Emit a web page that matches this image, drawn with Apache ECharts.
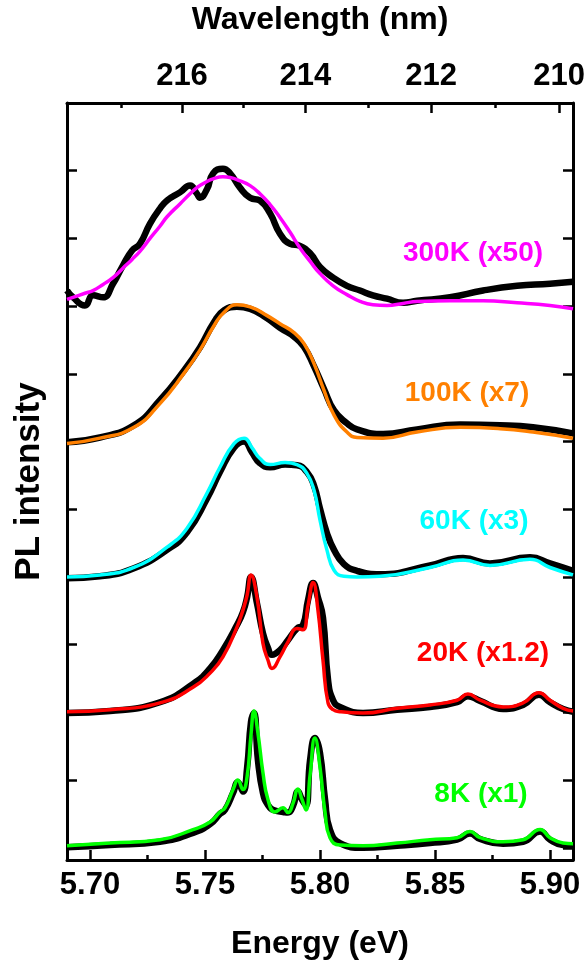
<!DOCTYPE html>
<html>
<head>
<meta charset="utf-8">
<script src="https://cdn.jsdelivr.net/npm/echarts@6.0.0/dist/echarts.min.js"></script>
<style>
html,body{margin:0;padding:0;background:#fff;}
#chart{width:585px;height:965px;}
</style>
</head>
<body>
<div id="chart"></div>
<script>
// ---- Tick definitions ----
const energyTicks = [5.70, 5.75, 5.80, 5.85, 5.90];
const energyMinorTicks = [5.725, 5.775, 5.825, 5.875];
const wavelengthMajor = [216, 214, 212, 210];
const wavelengthMinor = [217, 215, 213, 211];
const yTicks = [0, 1, 2, 3, 4, 5, 6, 7, 8, 9, 10];

// ---- 8K (x1) ----
const energy8K = [5.6900,5.7087,5.7304,5.7448,5.7522,5.7565,5.7587,5.7622,5.7643,5.7665,5.7683,5.7700,5.7713,5.7730,5.7752,5.7774,5.7804,5.7839,5.7861,5.7883,5.7904,5.7922,5.7939,5.7957,5.7978,5.8000,5.8022,5.8043,5.8087,5.8187,5.8335,5.8478,5.8596,5.8652,5.8696,5.8796,5.8883,5.8957,5.9000,5.9057,5.9100];
const data8K = [0.01,0.04,0.09,0.22,0.35,0.50,0.56,0.81,0.97,0.83,1.18,1.86,1.99,1.30,0.81,0.63,0.55,0.53,0.52,0.62,0.83,0.71,0.63,1.30,1.62,1.40,0.71,0.27,0.07,0.00,0.03,0.07,0.12,0.21,0.13,0.06,0.09,0.24,0.12,0.04,0.03];
const fit8K = [0.03,0.07,0.12,0.27,0.38,0.53,0.59,0.86,1.00,0.86,1.05,1.67,2.02,1.70,1.11,0.71,0.53,0.59,0.52,0.66,0.87,0.71,0.56,1.08,1.62,1.19,0.52,0.15,0.04,0.03,0.07,0.12,0.15,0.24,0.15,0.09,0.12,0.27,0.15,0.07,0.06];

// ---- 20K (x1.2) ----
const energy20K = [5.6900,5.7087,5.7304,5.7448,5.7522,5.7578,5.7639,5.7665,5.7683,5.7700,5.7726,5.7752,5.7774,5.7791,5.7826,5.7861,5.7900,5.7926,5.7948,5.7970,5.7991,5.8013,5.8035,5.8057,5.8087,5.8187,5.8335,5.8478,5.8596,5.8643,5.8696,5.8796,5.8883,5.8952,5.9000,5.9057,5.9100];
const data20K = [1.99,2.02,2.15,2.42,2.65,2.92,3.29,3.48,3.70,4.00,3.61,3.17,2.95,2.85,2.92,3.07,3.24,3.29,3.66,3.91,3.70,3.40,2.48,2.18,2.08,1.99,2.04,2.08,2.15,2.24,2.17,2.05,2.11,2.26,2.15,2.05,2.01];
const fit20K = [2.01,2.04,2.14,2.37,2.58,2.82,3.26,3.51,3.73,4.03,3.70,3.02,2.77,2.65,2.82,3.04,3.24,3.22,3.58,3.92,3.51,2.77,2.14,2.04,2.01,1.99,2.06,2.11,2.18,2.27,2.18,2.08,2.14,2.29,2.18,2.06,2.02];

// ---- 60K (x3) ----
const energy60K = [5.6900,5.7043,5.7191,5.7335,5.7422,5.7509,5.7565,5.7626,5.7670,5.7704,5.7739,5.7783,5.7848,5.7900,5.7943,5.7974,5.8000,5.8030,5.8061,5.8104,5.8161,5.8261,5.8478,5.8622,5.8739,5.8913,5.9000,5.9100];
const data60K = [3.98,4.01,4.13,4.40,4.66,5.16,5.55,5.91,6.00,5.84,5.68,5.62,5.66,5.65,5.55,5.35,5.01,4.65,4.40,4.19,4.09,4.04,4.17,4.28,4.20,4.29,4.20,4.09];
const fit60K = [4.00,4.03,4.14,4.44,4.72,5.24,5.62,5.97,6.05,5.91,5.75,5.66,5.69,5.66,5.53,5.28,4.84,4.40,4.10,4.01,4.00,4.01,4.14,4.25,4.17,4.26,4.14,4.03];

// ---- 100K (x7) ----
const energy100K = [5.6900,5.7043,5.7191,5.7304,5.7409,5.7478,5.7539,5.7583,5.7639,5.7696,5.7770,5.7826,5.7887,5.7930,5.7974,5.8017,5.8061,5.8117,5.8161,5.8274,5.8422,5.8609,5.8783,5.8926,5.9100];
const data100K = [5.99,6.06,6.24,6.61,7.05,7.39,7.76,7.94,7.99,7.96,7.82,7.68,7.55,7.40,7.11,6.78,6.46,6.27,6.18,6.11,6.18,6.25,6.24,6.21,6.12];
const fit100K = [5.97,6.05,6.21,6.56,7.01,7.35,7.71,7.91,8.02,7.99,7.86,7.74,7.61,7.45,7.15,6.76,6.39,6.14,6.06,6.05,6.14,6.21,6.19,6.14,6.05];

// ---- 300K (x50) ----
const energy300K = [5.6900,5.6926,5.6978,5.7013,5.7057,5.7100,5.7143,5.7183,5.7217,5.7261,5.7304,5.7335,5.7391,5.7435,5.7465,5.7478,5.7509,5.7535,5.7578,5.7609,5.7652,5.7696,5.7739,5.7783,5.7826,5.7870,5.7913,5.7957,5.8000,5.8057,5.8117,5.8174,5.8230,5.8291,5.8361,5.8422,5.8565,5.8709,5.8857,5.9000,5.9100];
const data300K = [8.23,8.13,8.01,8.16,8.13,8.33,8.60,8.82,8.92,9.22,9.44,9.56,9.68,9.78,9.66,9.60,9.73,9.96,10.03,9.96,9.75,9.60,9.56,9.37,9.07,8.92,8.89,8.78,8.58,8.42,8.30,8.23,8.16,8.11,8.05,8.08,8.13,8.23,8.30,8.33,8.36];
const fit300K = [8.10,8.13,8.19,8.23,8.32,8.42,8.56,8.69,8.81,9.00,9.18,9.32,9.51,9.66,9.75,9.78,9.84,9.88,9.91,9.90,9.85,9.78,9.66,9.50,9.31,9.09,8.86,8.66,8.48,8.30,8.17,8.07,8.02,8.01,8.04,8.07,8.08,8.08,8.05,8.01,7.96];

// ---- Spectra & labels ----
const spectra = [
  {name: '300K (x50)', color: '#ff00ff', energy: energy300K, data: data300K, fit: fit300K},
  {name: '100K (x7)',  color: '#ff8000', energy: energy100K, data: data100K, fit: fit100K},
  {name: '60K (x3)',   color: '#00ffff', energy: energy60K,  data: data60K,  fit: fit60K},
  {name: '20K (x1.2)', color: '#ff0000', energy: energy20K,  data: data20K,  fit: fit20K},
  {name: '8K (x1)',    color: '#00ff00', energy: energy8K,   data: data8K,   fit: fit8K}
];
const labelPos = [[473, 253], [467, 393], [474, 521], [483, 653], [481, 794]];

const HC = 1239.84;
const FONT = '"Liberation Sans", Arial, sans-serif';

const chart = echarts.init(document.getElementById('chart'), null, {renderer: 'canvas'});

const series = [];
spectra.forEach((s, k) => {
  series.push({
    type: 'line', name: s.name + ' data', xAxisIndex: 0, yAxisIndex: 0,
    data: s.energy.map((e, i) => [e, s.data[i]]),
    showSymbol: false, smooth: 0.5,
    lineStyle: {color: '#000', width: 6.5}, z: 2, silent: true
  });
  series.push({
    type: 'line', name: s.name + ' fit', xAxisIndex: 0, yAxisIndex: 0,
    data: s.energy.map((e, i) => [e, s.fit[i]]),
    showSymbol: false, smooth: 0.5,
    lineStyle: {color: s.color, width: 3.5}, z: 3, silent: true
  });
});

const gridBox = {left: 67, right: 12, top: 103, bottom: 105, outerBoundsMode: 'none'};
const labelStyle = {color: '#000', fontSize: 31, fontWeight: 'bold', fontFamily: FONT};
const nameStyle = {color: '#000', fontSize: 32, fontWeight: 'bold', fontFamily: FONT};
const lineSt = {color: '#000', width: 3};
const tickSt = {color: '#000', width: 2.5};

const option = {
  animation: false,
  backgroundColor: '#fff',
  grid: [Object.assign({}, gridBox), Object.assign({}, gridBox)],
  xAxis: [
    {
      gridIndex: 0, type: 'value', position: 'bottom', min: 5.69, max: 5.91,
      axisLine: {show: true, onZero: false, lineStyle: lineSt},
      axisTick: {show: true, inside: true, length: 10, lineStyle: tickSt, customValues: energyTicks},
      axisLabel: Object.assign({show: true, margin: 10, customValues: energyTicks,
        formatter: v => v.toFixed(2)}, labelStyle),
      splitLine: {show: false},
      name: 'Energy (eV)', nameLocation: 'middle', nameGap: 68, nameTextStyle: nameStyle
    },
    {
      gridIndex: 0, type: 'value', position: 'top', min: 5.69, max: 5.91,
      axisLine: {show: true, onZero: false, lineStyle: lineSt},
      axisTick: {show: true, inside: true, length: 10, lineStyle: tickSt,
        customValues: wavelengthMajor.map(l => HC / l)},
      axisLabel: Object.assign({show: true, margin: 11, customValues: wavelengthMajor.map(l => HC / l),
        formatter: v => String(Math.round(HC / v))}, labelStyle),
      splitLine: {show: false},
      name: 'Wavelength (nm)', nameLocation: 'middle', nameGap: 67, nameTextStyle: nameStyle
    },
    {
      gridIndex: 1, type: 'value', position: 'bottom', min: 5.69, max: 5.91,
      axisLine: {show: false, onZero: false},
      axisTick: {show: true, inside: true, length: 5, lineStyle: tickSt, customValues: energyMinorTicks},
      axisLabel: {show: false}, splitLine: {show: false}
    },
    {
      gridIndex: 1, type: 'value', position: 'top', min: 5.69, max: 5.91,
      axisLine: {show: false, onZero: false},
      axisTick: {show: true, inside: true, length: 5, lineStyle: tickSt,
        customValues: wavelengthMinor.map(l => HC / l)},
      axisLabel: {show: false}, splitLine: {show: false}
    }
  ],
  yAxis: [
    {
      gridIndex: 0, type: 'value', position: 'left', min: -0.18, max: 11,
      axisLine: {show: true, onZero: false, lineStyle: lineSt},
      axisTick: {show: true, inside: true, length: 10, lineStyle: tickSt, customValues: yTicks},
      axisLabel: {show: false}, splitLine: {show: false},
      name: 'PL intensity', nameLocation: 'middle', nameGap: 20, nameRotate: 90,
      nameTextStyle: Object.assign({}, nameStyle, {fontSize: 35})
    },
    {
      gridIndex: 0, type: 'value', position: 'right', min: -0.18, max: 11,
      axisLine: {show: true, onZero: false, lineStyle: lineSt},
      axisTick: {show: true, inside: true, length: 10, lineStyle: tickSt, customValues: yTicks},
      axisLabel: {show: false}, splitLine: {show: false}
    },
    {
      gridIndex: 1, type: 'value', show: false, min: -0.18, max: 11
    }
  ],
  graphic: spectra.map((s, k) => ({
    type: 'text', x: labelPos[k][0], y: labelPos[k][1], z: 10,
    style: {text: s.name, fill: s.color, fontSize: 28, fontWeight: 'bold', fontFamily: FONT,
      align: 'center', verticalAlign: 'middle'}
  })),
  series: series
};
chart.setOption(option);
</script>
</body>
</html>
